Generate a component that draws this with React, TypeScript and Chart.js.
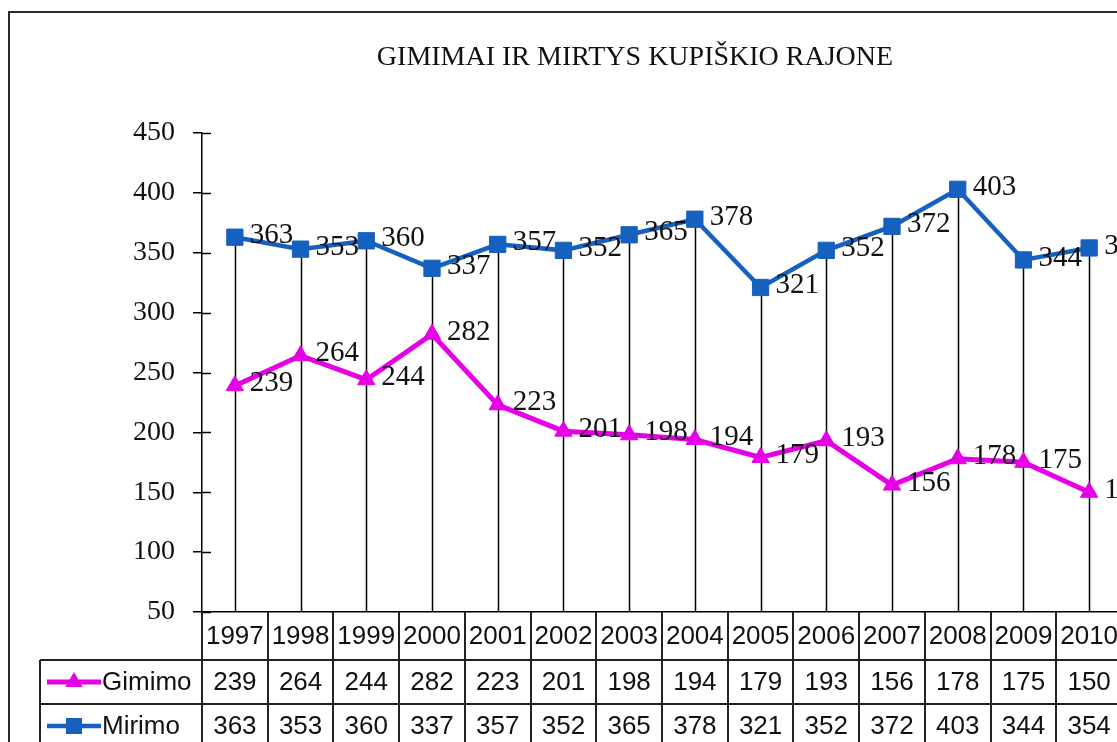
import React, { useEffect, useRef } from "react";
import { Chart, registerables } from "chart.js";

Chart.register(...registerables);

const chartTitle = "GIMIMAI IR MIRTYS KUPIŠKIO RAJONE";
const years = ["1997", "1998", "1999", "2000", "2001", "2002", "2003", "2004", "2005", "2006", "2007", "2008", "2009", "2010"];
const gimimo = [239, 264, 244, 282, 223, 201, 198, 194, 179, 193, 156, 178, 175, 150];
const mirimo = [363, 353, 360, 337, 357, 352, 365, 378, 321, 352, 372, 403, 344, 354];
const seriesNames = ["Gimimo", "Mirimo"];
const yMin = 50;
const yMax = 450;
const yStep = 50;

const MAGENTA = "#e600e6";
const BLUE = "#1660c0";
const SERIF = "'Liberation Serif', 'Times New Roman', serif";
const SANS = "'Liberation Sans', Arial, sans-serif";
const TEXT = "#111";

const CW = 1140;
const CH = 760;

function drawMarker(ctx: CanvasRenderingContext2D, style: string, x: number, y: number, color: string) {
  ctx.fillStyle = color;
  ctx.beginPath();
  if (style === "triangle") {
    const r = 10;
    ctx.moveTo(x, y - r);
    ctx.lineTo(x + r * 0.866, y + r * 0.5);
    ctx.lineTo(x - r * 0.866, y + r * 0.5);
    ctx.closePath();
  } else {
    ctx.rect(x - 8, y - 8, 16, 16);
  }
  ctx.fill();
}

const customPlugin = {
  id: "customDraw",
  beforeDatasetsDraw(chart: any) {
    const ctx: CanvasRenderingContext2D = chart.ctx;
    const xs = chart.scales.x;
    const ys = chart.scales.y;
    ctx.save();
    ctx.strokeStyle = "#000";
    ctx.lineWidth = 1.5;
    years.forEach((_, i) => {
      const px = Math.round(xs.getPixelForValue(i)) + 0.5;
      const top = ys.getPixelForValue(Math.max(gimimo[i], mirimo[i]));
      ctx.beginPath();
      ctx.moveTo(px, top);
      ctx.lineTo(px, ys.bottom);
      ctx.stroke();
    });
    ctx.restore();
  },
  afterDraw(chart: any) {
    const ctx: CanvasRenderingContext2D = chart.ctx;
    const xs = chart.scales.x;
    const ys = chart.scales.y;
    const area = chart.chartArea;
    ctx.save();

    // outer border
    ctx.strokeStyle = "#2a2a2a";
    ctx.lineWidth = 2;
    ctx.strokeRect(9, 12, CW + 50, CH + 50);

    // title
    ctx.fillStyle = TEXT;
    ctx.font = `28px ${SERIF}`;
    ctx.textAlign = "center";
    ctx.textBaseline = "middle";
    ctx.fillText(chartTitle, 635, 58);

    // inner halves of the y tick marks
    ctx.strokeStyle = "#000";
    ctx.lineWidth = 1.5;
    for (let v = yMin; v <= yMax; v += yStep) {
      const py = Math.round(ys.getPixelForValue(v)) + 0.5;
      ctx.beginPath();
      ctx.moveTo(area.left, py);
      ctx.lineTo(area.left + 9, py);
      ctx.stroke();
    }

    // data labels
    ctx.font = `29px ${SERIF}`;
    ctx.textAlign = "left";
    ctx.textBaseline = "middle";
    ctx.fillStyle = TEXT;
    [gimimo, mirimo].forEach((arr, di) => {
      const meta = chart.getDatasetMeta(di);
      arr.forEach((v, i) => {
        const pt = meta.data[i];
        ctx.fillText(String(v), pt.x + 15, pt.y - 2);
      });
    });

    // data table
    const n = years.length;
    const colW = (xs.right - xs.left) / n;
    const y0 = ys.bottom;
    const y1 = y0 + 48;
    const y2 = y1 + 44;
    const y3 = y2 + 44;
    const legLeft = 40;
    ctx.strokeStyle = "#222";
    ctx.lineWidth = 2;
    for (let i = 0; i <= n; i++) {
      const bx = Math.round(xs.left + i * colW);
      ctx.beginPath();
      ctx.moveTo(bx, y0);
      ctx.lineTo(bx, y3);
      ctx.stroke();
    }
    ctx.beginPath();
    ctx.moveTo(legLeft, y1);
    ctx.lineTo(legLeft, y3);
    ctx.stroke();
    [y1, y2, y3].forEach((yy) => {
      ctx.beginPath();
      ctx.moveTo(legLeft, yy);
      ctx.lineTo(CW, yy);
      ctx.stroke();
    });

    ctx.font = `26px ${SANS}`;
    ctx.textAlign = "center";
    ctx.textBaseline = "middle";
    ctx.fillStyle = TEXT;
    years.forEach((yr, i) => {
      const cx = xs.getPixelForValue(i);
      ctx.fillText(yr, cx, (y0 + y1) / 2 + 1);
      ctx.fillText(String(gimimo[i]), cx, (y1 + y2) / 2 + 1);
      ctx.fillText(String(mirimo[i]), cx, (y2 + y3) / 2 + 1);
    });

    // legend keys in table
    const rows = [
      { name: seriesNames[0], color: MAGENTA, style: "triangle", y: (y1 + y2) / 2, w: 5 },
      { name: seriesNames[1], color: BLUE, style: "rect", y: (y2 + y3) / 2, w: 4.5 },
    ];
    rows.forEach((r) => {
      ctx.strokeStyle = r.color;
      ctx.lineWidth = r.w;
      ctx.beginPath();
      ctx.moveTo(47, r.y);
      ctx.lineTo(101, r.y);
      ctx.stroke();
      drawMarker(ctx, r.style, 74, r.y, r.color);
      ctx.fillStyle = TEXT;
      ctx.textAlign = "left";
      ctx.fillText(r.name, 102, r.y + 1);
    });

    ctx.restore();
  },
};

export default function App() {
  const canvasRef = useRef<HTMLCanvasElement | null>(null);

  useEffect(() => {
    const canvas = canvasRef.current;
    if (!canvas) return;
    const chart = new Chart(canvas, {
      type: "line",
      data: {
        labels: years,
        datasets: [
          {
            label: seriesNames[0],
            data: gimimo,
            borderColor: MAGENTA,
            backgroundColor: MAGENTA,
            borderWidth: 5,
            pointStyle: "triangle",
            pointRadius: 10,
            pointBorderWidth: 1,
            pointBorderColor: MAGENTA,
            pointBackgroundColor: MAGENTA,
            tension: 0,
          },
          {
            label: seriesNames[1],
            data: mirimo,
            borderColor: BLUE,
            backgroundColor: BLUE,
            borderWidth: 4.5,
            pointStyle: "rect",
            pointRadius: 11.5,
            pointBorderWidth: 1,
            pointBorderColor: BLUE,
            pointBackgroundColor: BLUE,
            tension: 0,
          },
        ],
      },
      options: {
        animation: false,
        responsive: false,
        maintainAspectRatio: false,
        layout: { padding: { left: 0, top: 133, right: 18, bottom: CH - 612 } },
        plugins: {
          legend: { display: false },
          title: { display: false },
          tooltip: { enabled: false },
        },
        scales: {
          x: {
            type: "category",
            offset: true,
            ticks: { display: false },
            grid: { display: false },
            border: { display: true, color: "#000", width: 1.5 },
            afterFit: (s: any) => {
              s.height = 0;
            },
          },
          y: {
            min: yMin,
            max: yMax,
            ticks: {
              stepSize: yStep,
              font: { family: SERIF, size: 28 },
              color: TEXT,
              padding: 18,
            },
            grid: {
              drawOnChartArea: false,
              drawTicks: true,
              tickLength: 9,
              color: "#000",
              lineWidth: 1.5,
            },
            border: { display: true, color: "#000", width: 1.5 },
            afterFit: (s: any) => {
              s.width = 202;
            },
          },
        },
      },
      plugins: [customPlugin],
    } as any);
    return () => chart.destroy();
  }, []);

  return (
    <div
      style={{
        position: "fixed",
        left: 0,
        top: 0,
        width: 1117,
        height: 742,
        overflow: "hidden",
        background: "#fff",
      }}
    >
      <canvas ref={canvasRef} width={CW} height={CH} style={{ width: CW, height: CH, display: "block" }} />
    </div>
  );
}
